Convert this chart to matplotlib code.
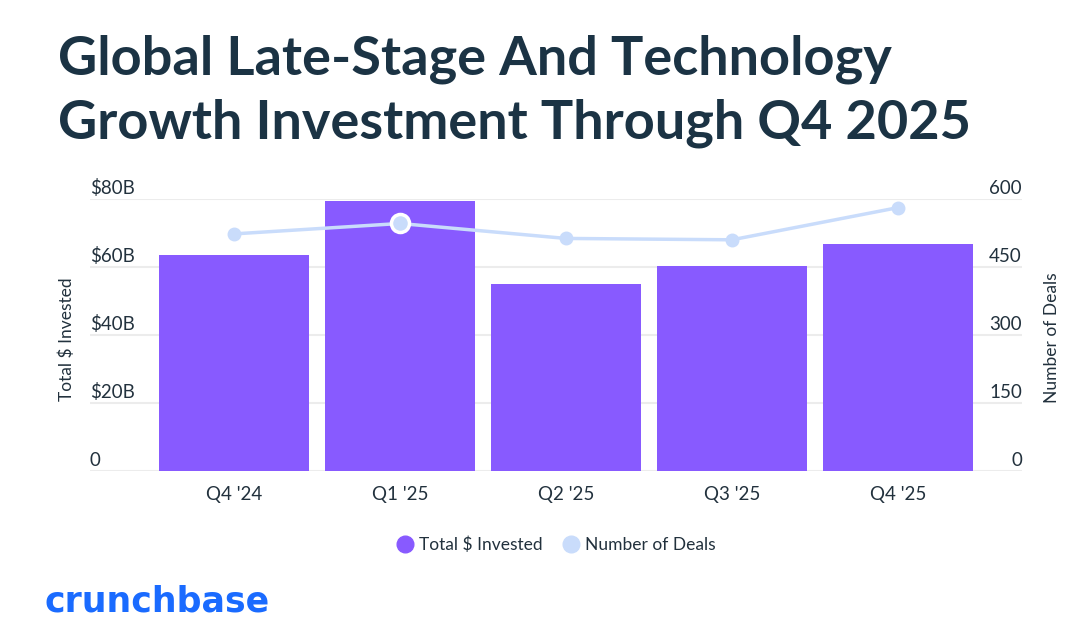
import matplotlib
matplotlib.use('Agg')
import matplotlib.pyplot as plt
import matplotlib.transforms as mtransforms
from matplotlib.lines import Line2D
import numpy as np

plt.rcParams['font.family'] = ['Lato', 'DejaVu Sans']

quarters = ["Q4 '24", "Q1 '25", "Q2 '25", "Q3 '25", "Q4 '25"]
invested = [63.4, 79.4, 54.9, 60.2, 66.8]      # $B
deals = [523, 546, 513, 510, 581]

left_ticks = [0, 20, 40, 60, 80]
left_labels = ['0', '$20B', '$40B', '$60B', '$80B']
right_ticks = [0, 150, 300, 450, 600]

navy = '#1b3344'
txt = '#22313d'
purple = '#885aff'
light = '#c9dcfb'
grid = '#ececec'

W, H = 1078, 623
fig = plt.figure(figsize=(W / 100, H / 100), dpi=100)
ax = fig.add_axes([90 / W, 1 - 471 / H, 932 / W, 272 / H])

x = np.arange(len(quarters))
ax.bar(x, invested, width=0.9, color=purple, zorder=2)
ax.set_xlim(-0.867, 4.747)
ax.set_ylim(0, 80)
ax.set_xticks(x)
ax.set_xticklabels(quarters, fontsize=13.5, color=txt)
ax.tick_params(axis='x', length=0, pad=11)
ax.set_yticks([])
for s in ax.spines.values():
    s.set_visible(False)
for v in left_ticks:
    ax.axhline(v, color=grid, lw=1.5, zorder=0)

off = mtransforms.offset_copy(ax.get_yaxis_transform(), fig=fig, x=0, y=5, units='dots')
for v, lab in zip(left_ticks, left_labels):
    ax.text(0, v, lab, transform=off, ha='left', va='baseline', fontsize=13.5, color=txt)

ax2 = ax.twinx()
ax2.set_ylim(0, 600)
ax2.set_yticks([])
for s in ax2.spines.values():
    s.set_visible(False)
ax2.plot(x, deals, color=light, lw=2.5, marker='o', ms=9, zorder=3)
ax2.plot(x[1], deals[1], marker='o', ms=13, color=light, mec='white', mew=2.5, zorder=4)
off2 = mtransforms.offset_copy(ax2.get_yaxis_transform(), fig=fig, x=0, y=5, units='dots')
for v in right_ticks:
    ax2.text(1, v, str(v), transform=off2, ha='right', va='baseline', fontsize=13.5, color=txt)

fig.text(67 / W, 1 - 339 / H, 'Total $ Invested', rotation=90, ha='center', va='center',
         fontsize=12.5, color=txt)
fig.text(1052 / W, 1 - 338 / H, 'Number of Deals', rotation=90, ha='center', va='center',
         fontsize=12.5, color=txt)

# title
fig.text(58 / W, 1 - 74 / H, 'Global Late-Stage And Technology', ha='left', va='baseline',
         fontsize=39, fontweight='bold', color=navy)
fig.text(58 / W, 1 - 139 / H, 'Growth Investment Through Q4 2025', ha='left', va='baseline',
         fontsize=39, fontweight='bold', color=navy)

# legend
handles = [Line2D([], [], ls='none', marker='o', ms=12, color=purple),
           Line2D([], [], ls='none', marker='o', ms=12, color=light)]
fig.legend(handles, ['Total $ Invested', 'Number of Deals'], loc='center',
           bbox_to_anchor=(556 / W, 1 - 545 / H), ncol=2, frameon=False,
           fontsize=12.5, handlelength=1.0, handletextpad=0.35, columnspacing=1.1,
           labelcolor=txt)

# logo
fig.text(45 / W, 1 - 611 / H, 'crunchbase', ha='left', va='baseline', fontsize=25,
         fontweight='bold', family=['DejaVu Sans'], color='#1a6bff')

fig.savefig('out.png', dpi=100)
